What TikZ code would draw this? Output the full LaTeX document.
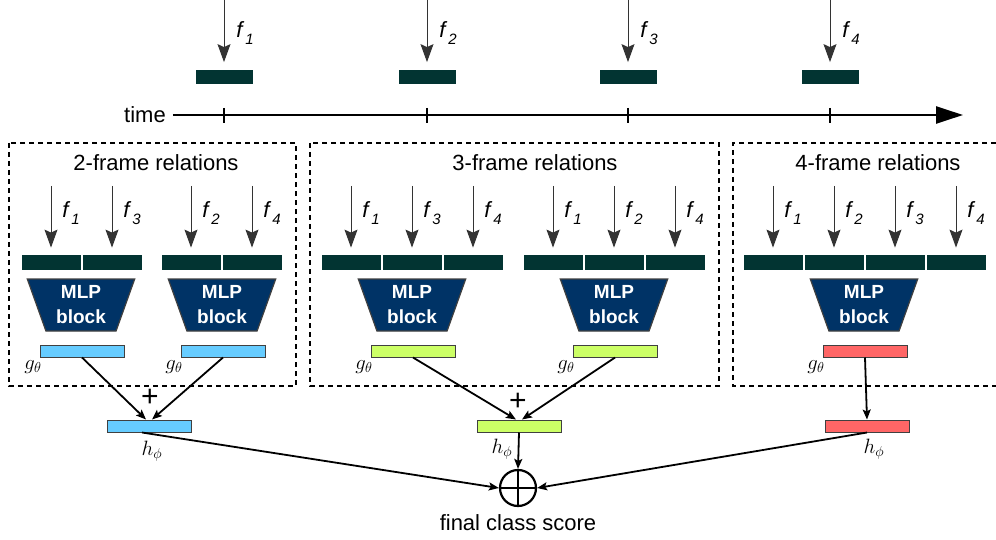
\documentclass[tikz,border=0pt]{standalone}
\usepackage{fontspec}
\setmainfont{Liberation Sans}
\usetikzlibrary{arrows.meta,shapes.geometric}

\definecolor{featcol}{HTML}{023432}
\definecolor{mlpcol}{HTML}{003366}
\definecolor{bluecol}{HTML}{66CCFF}
\definecolor{greencol}{HTML}{CCFF66}
\definecolor{redcol}{HTML}{FF6666}

% frame feature label f_i
\newcommand{\fsub}[1]{\textit{f}\kern1pt\raisebox{-7pt}{\fontsize{15}{15}\selectfont\textit{#1}}}

\begin{document}
\begin{tikzpicture}[x=1pt,y=-1pt,
    txt/.style={font=\fontsize{22}{26}\selectfont, inner sep=0},
    flabel/.style={font=\fontsize{22}{26}\selectfont, inner sep=0},
    mathlab/.style={font=\fontsize{22}{26}\selectfont, inner sep=0},
    feat/.style={rectangle, fill=featcol, draw=white, line width=0.8pt, minimum width=60, minimum height=16, inner sep=0},
    mlp/.style={trapezium, shape border rotate=180, trapezium angle=71, trapezium stretches=true,
        minimum width=108, minimum height=52, inner sep=0, fill=mlpcol, draw=black!75, line width=1.2pt,
        text=white, align=center, font=\fontsize{19}{25}\selectfont\bfseries},
    outbar/.style={rectangle, draw=black!75, line width=1pt, minimum width=84, minimum height=12, inner sep=0},
    inarrow/.style={draw=black!80, line width=1pt, -{Stealth[length=18pt,width=13pt,inset=3pt]}},
    conn/.style={line width=1.8pt, -{Stealth[length=10pt,width=8pt,inset=2pt]}},
    relbox/.style={dash pattern=on 5pt off 4pt, line width=1.8pt},
    plus/.style={font=\fontsize{30}{30}\selectfont, inner sep=0},
  ]
  \useasboundingbox (0,0) rectangle (996,540);

  % frames on the time axis
  \node[txt] (time) at (145,115) {time};
  \coordinate (tend) at (963,115);
  \draw[line width=2.5pt, -{Triangle[length=27pt,width=17pt]}, shorten <=7pt] (time.east) -- (tend);
  \foreach \i/\x in {1/224,2/427,3/628,4/830} {
    \node[feat, minimum width=58, minimum height=15] (frame\i) at (\x,77) {};
    \coordinate (src\i) at (\x,0);
    \draw[inarrow, shorten >=7pt] (src\i) -- (frame\i.north);
    \node[flabel] at (\x+21,33) {\fsub{\i}};
    \draw[line width=2pt] (\x,108) -- (\x,123);
  }

  % relation boxes
  \draw[relbox] (9,143) rectangle (296,386);
  \draw[relbox] (310,143) rectangle (719,386);
  \draw[relbox] (996,143) -- (733,143) -- (733,386) -- (996,386);
  \node[txt] (title2) at (156,163) {2-frame relations};
  \node[txt] (title3) at (535,163) {3-frame relations};
  \node[txt] (title4) at (878,163) {4-frame relations};

  % feature segments with incoming arrows: name/x/frame index
  \foreach \n/\x/\f in {a1/51/1,a2/112/3,b1/191/2,b2/252/4,
                        c1/351/1,c2/412/3,c3/473/4,d1/553/1,d2/614/2,d3/675/4,
                        e1/773/1,e2/834/2,e3/895/3,e4/956/4} {
    \node[feat] (seg\n) at (\x,262) {};
    \coordinate (in\n) at (\x,186);
    \draw[inarrow, shorten >=6pt] (in\n) -- (seg\n.north);
    \node[flabel] at (\x+20,213) {\fsub{\f}};
  }

  % MLP blocks and g outputs: name/x/colour
  \foreach \n/\x/\c in {a/81/bluecol,b/222/bluecol,c/412/greencol,d/614/greencol,e/864/redcol} {
    \node[mlp] (mlp\n) at (\x,305) {MLP\\block};
    \node[outbar, fill=\c] (g\n) at (\x+1,351) {};
    \node[mathlab] at (\x-48,367) {$g_\theta$};
  }

  % h outputs
  \node[outbar, fill=bluecol] (h2) at (149,426) {};
  \node[outbar, fill=greencol] (h3) at (519,426) {};
  \node[outbar, fill=redcol] (h4) at (867,426) {};
  \node[mathlab] at (152,451) {$h_\phi$};
  \node[mathlab] at (502,449) {$h_\phi$};
  \node[mathlab] at (874,449) {$h_\phi$};
  \node[plus] (plus2) at (150,398) {+};
  \node[plus] (plus3) at (518,402) {+};

  \draw[conn] (ga.south) -- ([xshift=-3pt]h2.north);
  \draw[conn] (gb.south) -- ([xshift=3pt]h2.north);
  \draw[conn] (gc.south) -- ([xshift=-3pt]h3.north);
  \draw[conn] (gd.south) -- ([xshift=3pt]h3.north);
  \draw[conn] (ge.south) -- (h4.north);

  % sum of all relation scores
  \node[circle, draw, line width=2.2pt, minimum size=36, inner sep=0,
        path picture={\draw[line width=2.2pt] (path picture bounding box.north) -- (path picture bounding box.south)
                      (path picture bounding box.west) -- (path picture bounding box.east);}] (sum) at (518,488) {};
  \node[txt] (score) at (518,523) {final class score};
  \draw[conn] ([xshift=-7pt]h2.south) -- (sum.west);
  \draw[conn] (h3.south) -- (sum.north);
  \draw[conn] (h4.south) -- (sum.east);
\end{tikzpicture}
\end{document}
